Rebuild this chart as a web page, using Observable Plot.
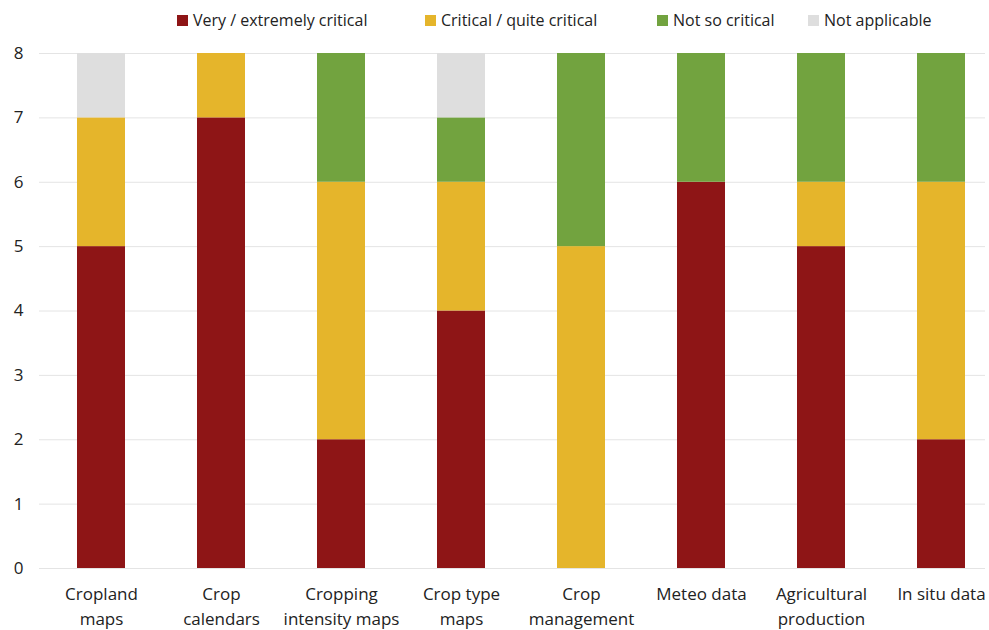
<!DOCTYPE html>
<html>
<head>
<meta charset="utf-8">
<script src="https://cdn.jsdelivr.net/npm/d3@7"></script>
<script src="https://cdn.jsdelivr.net/npm/@observablehq/plot@0.6"></script>
<style>
  body { margin: 0; background: #fff; font-family: "Open Sans", sans-serif; }
  #legend { height: 40px; position: relative; font-size: 16px; color: #222; }
  #legend .item { position: absolute; top: 9px; display: flex; align-items: center; white-space: nowrap; }
  #legend .sw { width: 11px; height: 11px; margin-right: 5px; }
</style>
</head>
<body>
<div id="legend"></div>
<div id="chart"></div>
<script>
// Data-source categories (two-line labels use "\n")
const categories = [
  "Cropland\nmaps",
  "Crop\ncalendars",
  "Cropping\nintensity maps",
  "Crop type\nmaps",
  "Crop\nmanagement",
  "Meteo data",
  "Agricultural\nproduction",
  "In situ data"
];
const levels = ["Very / extremely critical", "Critical / quite critical", "Not so critical", "Not applicable"];
const colors = ["#8e1516", "#e5b52b", "#72a33f", "#dedede"];

// Number of responses per criticality level, one entry per category
const veryCritical   = [5, 7, 2, 4, 0, 6, 5, 2];
const critical       = [2, 1, 4, 2, 5, 0, 1, 4];
const notSoCritical  = [0, 0, 2, 1, 3, 2, 2, 2];
const notApplicable  = [1, 0, 0, 1, 0, 0, 0, 0];
const yTicks = [0, 1, 2, 3, 4, 5, 6, 7, 8];

const series = [veryCritical, critical, notSoCritical, notApplicable];
const rows = [];
categories.forEach((c, i) => {
  series.forEach((s, k) => rows.push({category: c, level: levels[k], value: s[i]}));
});

// Legend row
const legendX = [177, 425, 657, 808];
const legend = document.getElementById("legend");
levels.forEach((l, k) => {
  const it = document.createElement("div");
  it.className = "item";
  it.style.left = legendX[k] + "px";
  it.innerHTML = `<span class="sw" style="background:${colors[k]}"></span><span>${l}</span>`;
  legend.appendChild(it);
});

const chart = Plot.plot({
  width: 989,
  height: 590,
  marginTop: 13,
  marginBottom: 62,
  marginLeft: 39,
  marginRight: 4,
  style: {fontFamily: "Open Sans, sans-serif", fontSize: "17px", color: "#222", overflow: "visible"},
  x: {domain: categories, paddingInner: 0.6, paddingOuter: 0.229, align: 0.655, label: null},
  y: {domain: [0, 8], label: null},
  color: {domain: levels, range: colors},
  marks: [
    Plot.ruleY(yTicks, {stroke: "#e4e4e4", strokeWidth: 1}),
    Plot.barY(rows, Plot.stackY({order: levels, x: "category", y: "value", fill: "level"})),
    Plot.axisY(yTicks, {tickSize: 0, tickPadding: 16, fontSize: 17, tickFormat: d => String(d)}),
    Plot.axisX({tickSize: 0, tickPadding: 14, fontSize: 17, lineHeight: 1.45})
  ]
});
document.getElementById("chart").appendChild(chart);
</script>
</body>
</html>
